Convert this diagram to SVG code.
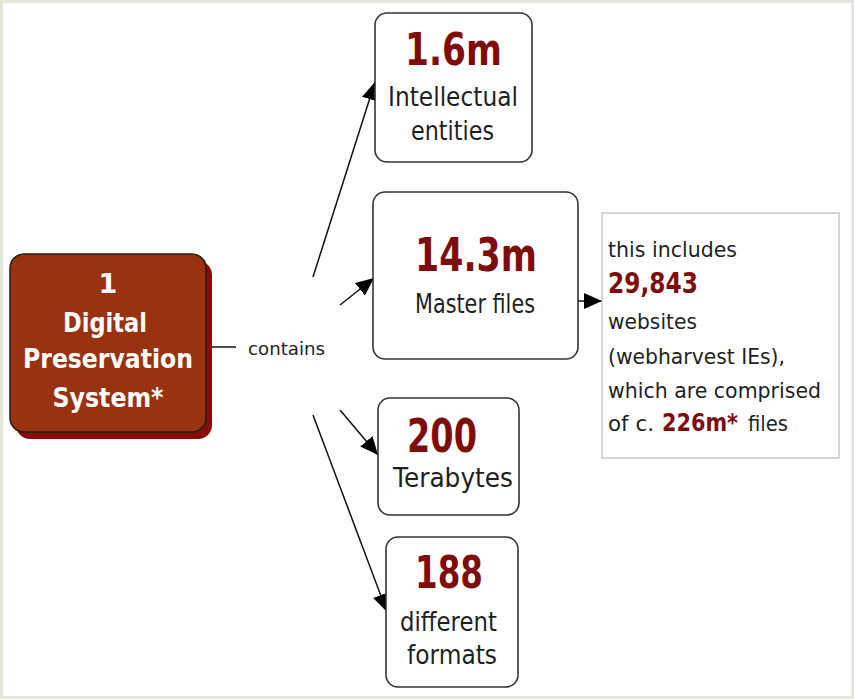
<svg xmlns="http://www.w3.org/2000/svg" width="854" height="700" viewBox="0 0 854 700">
<defs>
<marker id="ah" markerWidth="20" markerHeight="18" refX="18" refY="8" orient="auto" markerUnits="userSpaceOnUse"><path d="M0,0 L18,8 L0,16 z" fill="#000"/></marker>
<style>
.box{fill:#fff;stroke:#333;stroke-width:1.6}
.num{font-family:"DejaVu Sans","Liberation Sans",sans-serif;font-weight:bold;fill:#7f0c0c}
.lbl{font-family:"DejaVu Sans","Liberation Sans",sans-serif;fill:#1f1f1f}
.wht{font-family:"DejaVu Sans","Liberation Sans",sans-serif;font-weight:bold;fill:#fff;font-size:27px}
.edge{stroke:#111;stroke-width:1.5;fill:none}
</style>
</defs>
<rect x="0" y="0" width="854" height="700" fill="#fff"/>
<rect x="1.5" y="1.5" width="851" height="696" fill="none" stroke="#e6e6d8" stroke-width="3"/>

<g id="connectors">
<line class="edge" x1="206" y1="347" x2="236" y2="347"/>
<text class="lbl" x="248" y="355" font-size="17" textLength="77" lengthAdjust="spacingAndGlyphs">contains</text>
<line class="edge" x1="313" y1="277" x2="375" y2="82" marker-end="url(#ah)"/>
<line class="edge" x1="340" y1="305" x2="374" y2="278" marker-end="url(#ah)"/>
<line class="edge" x1="340" y1="410" x2="378" y2="455" marker-end="url(#ah)"/>
<line class="edge" x1="313" y1="415" x2="387" y2="612" marker-end="url(#ah)"/>
<line class="edge" x1="578" y1="301" x2="602" y2="301" marker-end="url(#ah)"/>
</g>

<g id="dps">
<rect x="16" y="261" width="196" height="178" rx="14" fill="#8a0a0a"/>
<rect x="10" y="254" width="196" height="178" rx="14" fill="#983210" stroke="#2a1a14" stroke-width="1.5"/>
<text class="wht" x="108" y="293" text-anchor="middle" font-size="25">1</text>
<text class="wht" x="105" y="332" text-anchor="middle" textLength="84" lengthAdjust="spacingAndGlyphs">Digital</text>
<text class="wht" x="108" y="368" text-anchor="middle" textLength="170" lengthAdjust="spacingAndGlyphs">Preservation</text>
<text class="wht" x="108" y="407" text-anchor="middle" textLength="111" lengthAdjust="spacingAndGlyphs">System*</text>
</g>

<g id="ie">
<rect class="box" x="375" y="13" width="157" height="149" rx="12"/>
<text class="num" x="405" y="65" font-size="44" textLength="97" lengthAdjust="spacingAndGlyphs">1.6m</text>
<text class="lbl" x="388" y="106" font-size="26" textLength="130" lengthAdjust="spacingAndGlyphs">Intellectual</text>
<text class="lbl" x="411" y="140" font-size="26" textLength="83" lengthAdjust="spacingAndGlyphs">entities</text>
</g>

<g id="master">
<rect class="box" x="373" y="192" width="205" height="167" rx="12"/>
<text class="num" x="415" y="271" font-size="46" textLength="122" lengthAdjust="spacingAndGlyphs">14.3m</text>
<text class="lbl" x="415" y="313" font-size="27" textLength="120" lengthAdjust="spacingAndGlyphs">Master files</text>
</g>

<g id="note">
<rect x="602" y="213" width="237" height="245" fill="#fff" stroke="#c8c8c8" stroke-width="1.5"/>
<text class="lbl" x="608" y="257" font-size="22" textLength="129" lengthAdjust="spacingAndGlyphs">this includes</text>
<text class="num" x="608" y="293" font-size="28" textLength="90" lengthAdjust="spacingAndGlyphs">29,843</text>
<text class="lbl" x="608" y="329" font-size="22" textLength="89" lengthAdjust="spacingAndGlyphs">websites</text>
<text class="lbl" x="608" y="364" font-size="22" textLength="177" lengthAdjust="spacingAndGlyphs">(webharvest IEs),</text>
<text class="lbl" x="608" y="398" font-size="22" textLength="213" lengthAdjust="spacingAndGlyphs">which are comprised</text>
<text class="lbl" x="608" y="431" font-size="22" textLength="46" lengthAdjust="spacingAndGlyphs">of c.</text>
<text class="num" x="662" y="431" font-size="24" textLength="76" lengthAdjust="spacingAndGlyphs">226m*</text>
<text class="lbl" x="748" y="431" font-size="22" textLength="40" lengthAdjust="spacingAndGlyphs">files</text>
</g>

<g id="tb">
<rect class="box" x="378" y="398" width="141" height="117" rx="12"/>
<text class="num" x="407" y="452" font-size="46" textLength="70" lengthAdjust="spacingAndGlyphs">200</text>
<text class="lbl" x="393" y="487" font-size="26" textLength="120" lengthAdjust="spacingAndGlyphs">Terabytes</text>
</g>

<g id="formats">
<rect class="box" x="386" y="537" width="132" height="150" rx="12"/>
<text class="num" x="415" y="588" font-size="45" textLength="68" lengthAdjust="spacingAndGlyphs">188</text>
<text class="lbl" x="400" y="631" font-size="26" textLength="97" lengthAdjust="spacingAndGlyphs">different</text>
<text class="lbl" x="407" y="664" font-size="26" textLength="90" lengthAdjust="spacingAndGlyphs">formats</text>
</g>
</svg>
